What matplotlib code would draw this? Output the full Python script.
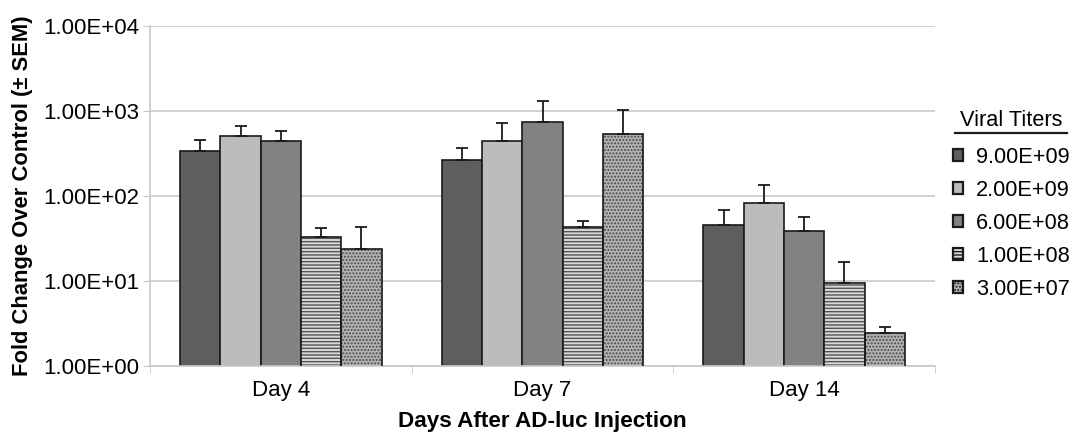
import numpy as np
import matplotlib
matplotlib.use('Agg')
from matplotlib import pyplot as plt
from matplotlib.lines import Line2D

plt.rcParams['font.family'] = ['Liberation Sans', 'DejaVu Sans']
plt.rcParams['hatch.linewidth'] = 1.0

days = ['Day 4', 'Day 7', 'Day 14']
titers = ['9.00E+09', '2.00E+09', '6.00E+08', '1.00E+08', '3.00E+07']
# bar heights (fold change) per titer, one value per day
means = [
    [338, 263, 45],
    [508, 439, 83],
    [447, 733, 39],
    [32.7, 43, 9.6],
    [23.6, 530, 2.44],
]
# upper end of the error bar (mean + SEM)
upper = [
    [455, 363, 68],
    [671, 713, 135],
    [582, 1303, 56],
    [41.7, 50.7, 16.9],
    [42.8, 1014, 2.84],
]

faces = ['#5e5e5e', '#bcbcbc', '#828282', '#d8d8d8', '#b4b4b4']
hatches = [None, None, None, '-----', '.....']
hatch_cols = [None, None, None, '#555555', '#4a4a4a']

fig = plt.figure(figsize=(10.76, 4.37), dpi=100)
ax = fig.add_axes([150/1076, 71/437, 785/1076, 340/437])

x = np.arange(len(days))
width = 0.154
for i in range(len(titers)):
    pos = x + (i - 2) * width
    m = np.array(means[i])
    up = np.array(upper[i])
    if hatches[i]:
        ax.bar(pos, m, width, color=faces[i], hatch=hatches[i],
               edgecolor=hatch_cols[i], linewidth=0, zorder=2)
        ax.bar(pos, m, width, fill=False, edgecolor='#1a1a1a', linewidth=1.2, zorder=3)
    else:
        ax.bar(pos, m, width, color=faces[i], edgecolor='#1a1a1a', linewidth=1.2, zorder=2)
    ax.errorbar(pos, m, yerr=[np.zeros_like(m), up - m], fmt='none',
                ecolor='#1a1a1a', elinewidth=1.3, capsize=4, capthick=1.3, zorder=4)

ax.set_yscale('log')
ax.set_ylim(1, 10000)
ax.set_xlim(-0.5, 2.5)
ax.set_yticks([1, 10, 100, 1000, 10000])
ax.set_yticklabels(['1.00E+00', '1.00E+01', '1.00E+02', '1.00E+03', '1.00E+04'])
ax.minorticks_off()
ax.set_xticks(x)
ax.set_xticklabels(days)
ax.set_xticks([-0.5, 0.5, 1.5, 2.5], minor=True)
ax.tick_params(axis='x', which='major', length=0, pad=10, labelsize=16)
ax.tick_params(axis='x', which='minor', length=5, color='#c8c8c8')
ax.tick_params(axis='y', length=5, color='#c8c8c8', labelsize=16, pad=3)
ax.grid(axis='y', color='#c8c8c8', linewidth=1.2, zorder=0)
ax.set_axisbelow(True)
for s in ['top', 'right']:
    ax.spines[s].set_visible(False)
for s in ['left', 'bottom']:
    ax.spines[s].set_color('#c8c8c8')
    ax.spines[s].set_linewidth(1.2)

ax.set_ylabel('Fold Change Over Control (± SEM)', fontsize=15.8, fontweight='bold', labelpad=7)
ax.set_xlabel('Days After AD-luc Injection', fontsize=16.2, fontweight='bold', labelpad=7)

handles = []
for i in range(len(titers)):
    h = plt.Rectangle((0, 0), 1, 1, facecolor=faces[i], edgecolor='#1a1a1a',
                      linewidth=1.6, hatch=hatches[i])
    handles.append(h)
fig.legend(handles, titers, loc='upper left', bbox_to_anchor=(953/1076, 1 - 147/437),
           frameon=False, fontsize=15.7, handlelength=0.45, handleheight=0.45,
           handletextpad=0.6, labelspacing=0.55, borderaxespad=0, borderpad=0)

fig.text(1011/1076, 1 - 121/437, 'Viral Titers', fontsize=15.7, ha='center', va='center')
fig.add_artist(Line2D([955/1076, 1067/1076], [1 - 133/437, 1 - 133/437],
                      color='#1a1a1a', linewidth=1.6))

plt.savefig('out.png', dpi=100)
